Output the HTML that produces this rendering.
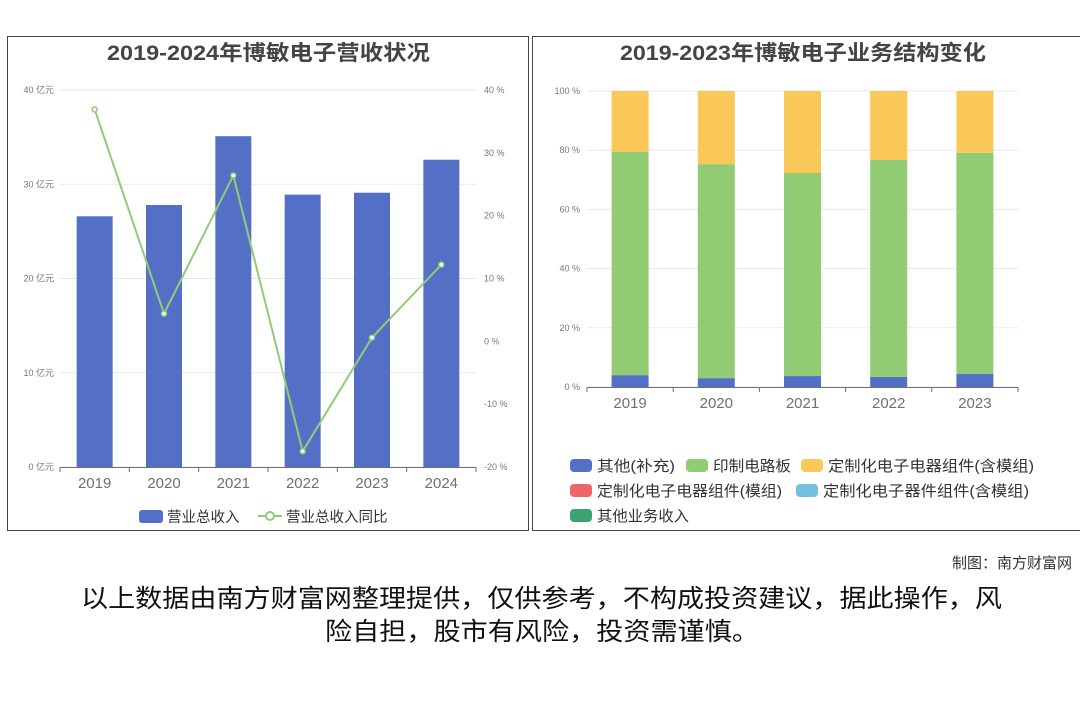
<!DOCTYPE html>
<html><head><meta charset="utf-8"><style>
body{margin:0;background:#fff;width:1080px;height:720px;overflow:hidden;font-family:"Liberation Sans","Noto Sans CJK SC",sans-serif}
svg text{font-family:"Liberation Sans","Noto Sans CJK SC",sans-serif}
</style></head><body>
<svg id="s" width="1080" height="720">
<rect x="7.5" y="36.5" width="521" height="494" fill="#fff" stroke="#444"/>
<rect x="532.5" y="36.5" width="560" height="494" fill="#fff" stroke="#444"/>
<text x="107" y="60" textLength="323" lengthAdjust="spacingAndGlyphs" font-size="21" font-weight="bold" fill="#444">2019-2024年博敏电子营收状况</text>
<text x="620" y="60" textLength="366" lengthAdjust="spacingAndGlyphs" font-size="21" font-weight="bold" fill="#444">2019-2023年博敏电子业务结构变化</text>
<g id="L"></g><g id="R"></g>
<text x="1072" y="568" text-anchor="end" font-size="15" fill="#333">制图：南方财富网</text>
<text x="81" y="607" textLength="921" lengthAdjust="spacingAndGlyphs" font-size="25" fill="#111">以上数据由南方财富网整理提供，仅供参考，不构成投资建议，据此操作，风</text>
<text x="325" y="640" textLength="434" lengthAdjust="spacingAndGlyphs" font-size="25" fill="#111">险自担，股市有风险，投资需谨慎。</text>
</svg>
<script>
const years=["2019","2020","2021","2022","2023","2024"];
const revenue=[26.6,27.8,35.1,28.9,29.1,32.6];
const growth=[36.9,4.4,26.4,-17.5,0.6,12.2];
const leftTicks=[0,10,20,30,40];
const rightTicks=[-20,-10,0,10,20,30,40];
const years2=["2019","2020","2021","2022","2023"];
const otherSupp=[4.0,3.0,3.7,3.4,4.4];
const pcb=[75.4,72.3,68.6,73.3,74.7];
const custom=[20.6,24.7,27.7,23.3,20.9];
const pctTicks=[0,20,40,60,80,100];
const NS="http://www.w3.org/2000/svg";
function mk(p,t,a,txt){const e=document.createElementNS(NS,t);for(const k in a)e.setAttribute(k,a[k]);if(txt!=null)e.textContent=txt;p.appendChild(e);return e;}
const L=document.getElementById('L'),R=document.getElementById('R');
const x0=60,x1=476,yb=467,yt=90;
const yL=v=>yb-(v/40)*(yb-yt);
const yR=v=>yb-((v+20)/60)*(yb-yt);
const bw=(x1-x0)/years.length;
const xc=i=>x0+bw*(i+0.5);
leftTicks.forEach(v=>{const y=yL(v);
 let g=mk(L,'line',{x1:x0,x2:x1,y1:y,y2:y,stroke:'#e6e9f2'});
 
 let t=mk(L,'text',{x:54,y:y+3,'text-anchor':'end','font-size':9,fill:'#777'},v+' 亿元');
 });
rightTicks.forEach(v=>{let t=mk(L,'text',{x:484,y:yR(v)+3,'font-size':9,fill:'#777'},v+' %');
 });
revenue.forEach((v,i)=>{let r=mk(L,'rect',{x:xc(i)-18,y:yL(v),width:36,height:yb-yL(v),fill:'#5470c6'});
 });
let ax=mk(L,'line',{x1:x0,x2:x1,y1:yb+.5,y2:yb+.5,stroke:'#6e7079'});

for(let i=0;i<=years.length;i++)mk(L,'line',{x1:x0+bw*i,x2:x0+bw*i,y1:yb,y2:yb+5,stroke:'#6e7079'});
years.forEach((y,i)=>{let t=mk(L,'text',{x:xc(i),y:488,'text-anchor':'middle','font-size':15,fill:'#6e7079'},y);
 });
let pl=mk(L,'polyline',{points:growth.map((v,i)=>xc(i)+','+yR(v)).join(' '),fill:'none',stroke:'#91cc75','stroke-width':2});

growth.forEach((v,i)=>{let c=mk(L,'circle',{cx:xc(i),cy:yR(v),r:2.5,fill:'#fff',stroke:'#91cc75','stroke-width':1.5});
 });
let lg=mk(L,'rect',{x:139,y:510,width:24,height:13,rx:3,fill:'#5470c6'});

let lt=mk(L,'text',{x:167,y:522,'font-size':14.5,fill:'#333'},'营业总收入');

mk(L,'line',{x1:258,x2:282,y1:516,y2:516,stroke:'#91cc75','stroke-width':2});
mk(L,'circle',{cx:270,cy:516,r:4,fill:'#fff',stroke:'#91cc75','stroke-width':2});
let lt2=mk(L,'text',{x:286,y:522,'font-size':14.5,fill:'#333'},'营业总收入同比');

const rx0=587,rx1=1018,rb=387,rt=91;
const yP=v=>rb-(v/100)*(rb-rt);
const bw2=(rx1-rx0)/years2.length;
const xc2=i=>rx0+bw2*(i+0.5);
pctTicks.forEach(v=>{const y=yP(v);
 let g=mk(R,'line',{x1:rx0,x2:rx1,y1:y,y2:y,stroke:'#e6e9f2'});
 
 let t=mk(R,'text',{x:580,y:y+3,'text-anchor':'end','font-size':9,fill:'#777'},v+' %');
 });
const series=[[otherSupp,'#5470c6','other-supp'],[pcb,'#91cc75','pcb'],[custom,'#fac858','custom-module']];
years2.forEach((y,i)=>{let acc=0;series.forEach(([arr,col,nm])=>{const v=arr[i];
 let r=mk(R,'rect',{x:xc2(i)-18.5,y:yP(acc+v),width:37,height:yP(acc)-yP(acc+v),fill:col});
 acc+=v;});});
let ax2=mk(R,'line',{x1:rx0,x2:rx1,y1:rb+.5,y2:rb+.5,stroke:'#6e7079'});

for(let i=0;i<=years2.length;i++)mk(R,'line',{x1:rx0+bw2*i,x2:rx0+bw2*i,y1:rb,y2:rb+5,stroke:'#6e7079'});
years2.forEach((y,i)=>{let t=mk(R,'text',{x:xc2(i),y:408,'text-anchor':'middle','font-size':15,fill:'#6e7079'},y);
 });
const leg=[[570,466,'#5470c6','其他(补充)',78],[686,466,'#91cc75','印制电路板',78],[801,466,'#fac858','定制化电子电器组件(含模组)',206],
[570,491,'#ee6666','定制化电子电器组件(模组)',185],[796,491,'#73c0de','定制化电子器件组件(含模组)',206],[570,516,'#3ba272','其他业务收入',92]];
leg.forEach(([x,y,c,t,w])=>{let r=mk(R,'rect',{x:x,y:y-7,width:22,height:13,rx:4,fill:c});
 
 let tx=mk(R,'text',{x:x+27,y:y+5,'font-size':15,fill:'#333',textLength:w,lengthAdjust:'spacingAndGlyphs'},t);
 });
</script>
</body></html>
